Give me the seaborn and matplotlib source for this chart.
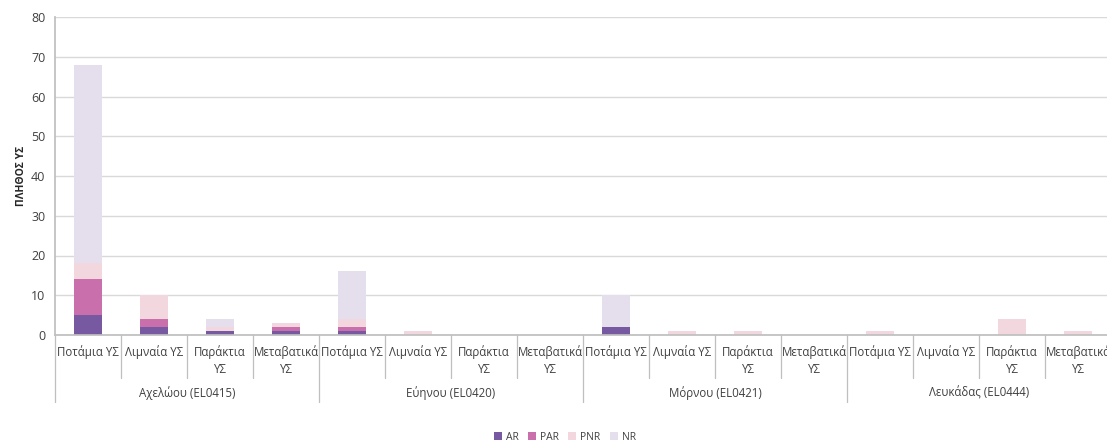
import matplotlib
matplotlib.use("Agg")
import matplotlib.pyplot as plt
import seaborn as sns
import pandas as pd
import numpy as np

# Basins (upper label row) and water body types (lower label row)
basins = ["Αχελώου (EL0415)", "Εύηνου (EL0420)", "Μόρνου (EL0421)", "Λευκάδας (EL0444)"]
types = ["Ποτάμια ΥΣ", "Λιμναία ΥΣ", "Παράκτια\nΥΣ", "Μεταβατικά\nΥΣ"]

# Number of water bodies per class, in basin-major order (4 types per basin)
ar  = [5, 2, 1, 1,   1, 0, 0, 0,   2, 0, 0, 0,   0, 0, 0, 0]
par = [9, 2, 0, 1,   1, 0, 0, 0,   0, 0, 0, 0,   0, 0, 0, 0]
pnr = [4, 6, 1, 1,   2, 1, 0, 0,   0, 1, 1, 0,   1, 0, 4, 1]
nr  = [50, 0, 2, 0, 12, 0, 0, 0,   8, 0, 0, 0,   0, 0, 0, 0]

series = ["AR", "PAR", "PNR", "NR"]
colors = {"AR": "#7759a2", "PAR": "#c96fab", "PNR": "#f3d7df", "NR": "#e5deec"}

slots = [f"{b}|{t}" for b in basins for t in types]
df = pd.DataFrame({"slot": slots, "AR": ar, "PAR": par, "PNR": pnr, "NR": nr})
cum = df[series].cumsum(axis=1)

sns.set_theme(style="white")
plt.rcParams["font.family"] = ["Open Sans", "DejaVu Sans"]

fig = plt.figure(figsize=(11.07, 4.43), dpi=100)
ax = fig.add_axes([55 / 1107, 1 - 335 / 443, 1056 / 1107, 318 / 443])

# Stacked bars: draw cumulative totals from the top layer down
for s in reversed(series):
    sns.barplot(data=cum.assign(slot=df["slot"]), x="slot", y=s, order=slots,
                color=colors[s], width=0.41, saturation=1, ax=ax, zorder=2,
                linewidth=0, label=s)

handles, labels = ax.get_legend_handles_labels()
if ax.get_legend() is not None:
    ax.get_legend().remove()

ax.set_xlim(-0.5, len(slots) - 0.5)
ax.set_ylim(0, 80)
ax.set_yticks(np.arange(0, 81, 10))
ax.yaxis.grid(True, color="#d9d9d9", linewidth=1.0, zorder=0)
ax.set_axisbelow(True)
for sp in ["top", "right"]:
    ax.spines[sp].set_visible(False)
ax.spines["left"].set_color("#bfbfbf")
ax.spines["bottom"].set_color("#bfbfbf")
ax.tick_params(axis="y", length=4, color="#bfbfbf", labelsize=9, labelcolor="#404040", pad=3)
ax.set_xticks([])
ax.set_xlabel("")
ax.set_ylabel("ΠΛΗΘΟΣ ΥΣ", fontsize=7.5, fontweight="bold", color="#262626", labelpad=3)

# Two-level category axis
tr = ax.get_xaxis_transform()
ax_h = 318.0
for i, t in enumerate(types * len(basins)):
    ax.text(i, -10 / ax_h, t, transform=tr, ha="center", va="top", fontsize=8.3,
            color="#404040", linespacing=1.45, clip_on=False)
for i in range(len(slots) + 1):
    edge = i - 0.5
    bottom = -67 / ax_h if i % 4 == 0 else -43 / ax_h
    ax.plot([edge, edge], [0, bottom], transform=tr, color="#bfbfbf", lw=0.9, clip_on=False)
for j, b in enumerate(basins):
    ax.text(j * 4 + 1.5, -58 / ax_h, b, transform=tr, ha="center", va="center",
            fontsize=8.3, color="#404040", clip_on=False)

order = [labels.index(s) for s in series]
fig.legend([handles[k] for k in order], series, loc="center", bbox_to_anchor=(565 / 1107, 1 - 437 / 443),
           ncol=4, frameon=False, fontsize=7.5, handlelength=0.75, handleheight=0.75,
           handletextpad=0.4, columnspacing=0.9, labelcolor="#404040")

fig.savefig("out.png", dpi=100)
